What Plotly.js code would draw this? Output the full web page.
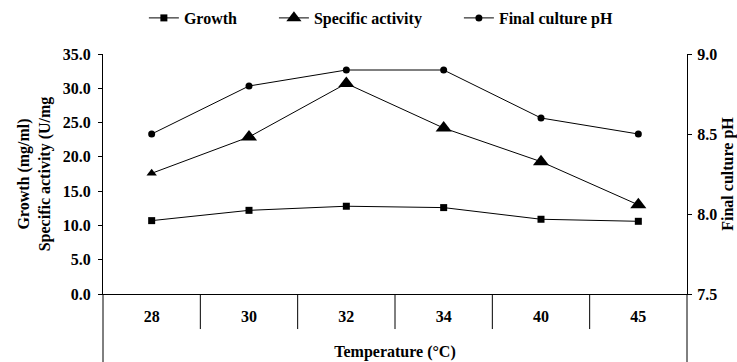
<!DOCTYPE html>
<html>
<head>
<meta charset="utf-8">
<script src="https://cdn.plot.ly/plotly-3.0.1.min.js"></script>
<style>html,body{margin:0;padding:0;background:#fff;}#chart{width:737px;height:362px;}</style>
</head>
<body>
<div id="chart"></div>
<script>
const temperatures = ["28", "30", "32", "34", "40", "45"];
const growth = [10.7, 12.2, 12.8, 12.6, 10.9, 10.6];
const specificActivity = [17.6, 22.9, 30.7, 24.2, 19.3, 13.0];
const finalPH = [8.5, 8.8, 8.9, 8.9, 8.6, 8.5];
const triangleSizes = [9, 14, 14, 14, 14, 14];
const seriesNames = ["Growth", "Specific activity", "Final culture pH"];

const fontBase = {family: "Liberation Serif, Times New Roman, serif", size: 16, color: "#000", weight: "bold"};
const pad = "\u00a0".repeat(8);

const traces = [
  {x: temperatures, y: growth, name: seriesNames[0] + pad, type: "scatter", mode: "lines+markers",
   line: {color: "#000", width: 1}, marker: {symbol: "square", size: 7, color: "#000000", opacity: 1, line: {width: 0}}},
  {x: temperatures, y: specificActivity, name: seriesNames[1] + pad, type: "scatter", mode: "lines+markers",
   line: {color: "#000", width: 1}, marker: {symbol: "triangle-up", size: triangleSizes, color: "#000000", opacity: 1, line: {width: 0}}},
  {x: temperatures, y: finalPH, name: seriesNames[2], type: "scatter", mode: "lines+markers", yaxis: "y2",
   line: {color: "#000", width: 1}, marker: {symbol: "circle", size: 7, color: "#000000", opacity: 1, line: {width: 0}}}
];

const shapes = [];
for (let i = 0; i < temperatures.length - 1; i++) {
  shapes.push({type: "line", xref: "x", yref: "paper", x0: i + 0.5, x1: i + 0.5, y0: 0, y1: -0.146,
               line: {color: "#000", width: 1}});
}
shapes.push({type: "line", xref: "paper", yref: "paper", x0: 0, x1: 0, y0: 0, y1: -0.3, line: {color: "#000", width: 1}});
shapes.push({type: "line", xref: "paper", yref: "paper", x0: 1, x1: 1, y0: 0, y1: -0.3, line: {color: "#000", width: 1}});

const layout = {
  width: 737, height: 362,
  margin: {l: 103, r: 50, t: 54, b: 68, pad: 0, autoexpand: false},
  paper_bgcolor: "#fff", plot_bgcolor: "#fff",
  font: fontBase,
  showlegend: true,
  legend: {orientation: "h", x: 0.07, xanchor: "left", y: 1.15, yanchor: "middle",
           font: fontBase, bgcolor: "rgba(0,0,0,0)", itemwidth: 30, tracegroupgap: 0},
  xaxis: {type: "category", range: [-0.5, temperatures.length - 0.5], showline: true, linecolor: "#000", linewidth: 1,
          ticks: "", showgrid: false, zeroline: false, tickfont: fontBase, ticklabelstandoff: 8,
          title: {text: "Temperature (°C)", font: fontBase, standoff: 21}, automargin: false},
  yaxis: {range: [0, 35], dtick: 5, tickformat: ".1f", showline: true, linecolor: "#000", linewidth: 1,
          ticks: "outside", ticklen: 4, tickcolor: "#000", showgrid: false, zeroline: false, tickfont: fontBase,
          ticklabelstandoff: 4,
          title: {text: "Growth (mg/ml)<br>Specific activity (U/mg", font: fontBase, standoff: 8}, automargin: false},
  yaxis2: {range: [7.5, 9.0], dtick: 0.5, tickformat: ".1f", overlaying: "y", side: "right", showline: true,
           linecolor: "#000", linewidth: 1, ticks: "outside", ticklen: 4, tickcolor: "#000", showgrid: false,
           zeroline: false, tickfont: fontBase, ticklabelstandoff: 2,
           title: {text: "Final culture pH", font: fontBase, standoff: 6}, automargin: false},
  shapes: shapes
};

Plotly.newPlot("chart", traces, layout, {displayModeBar: false, staticPlot: true});
</script>
</body>
</html>
